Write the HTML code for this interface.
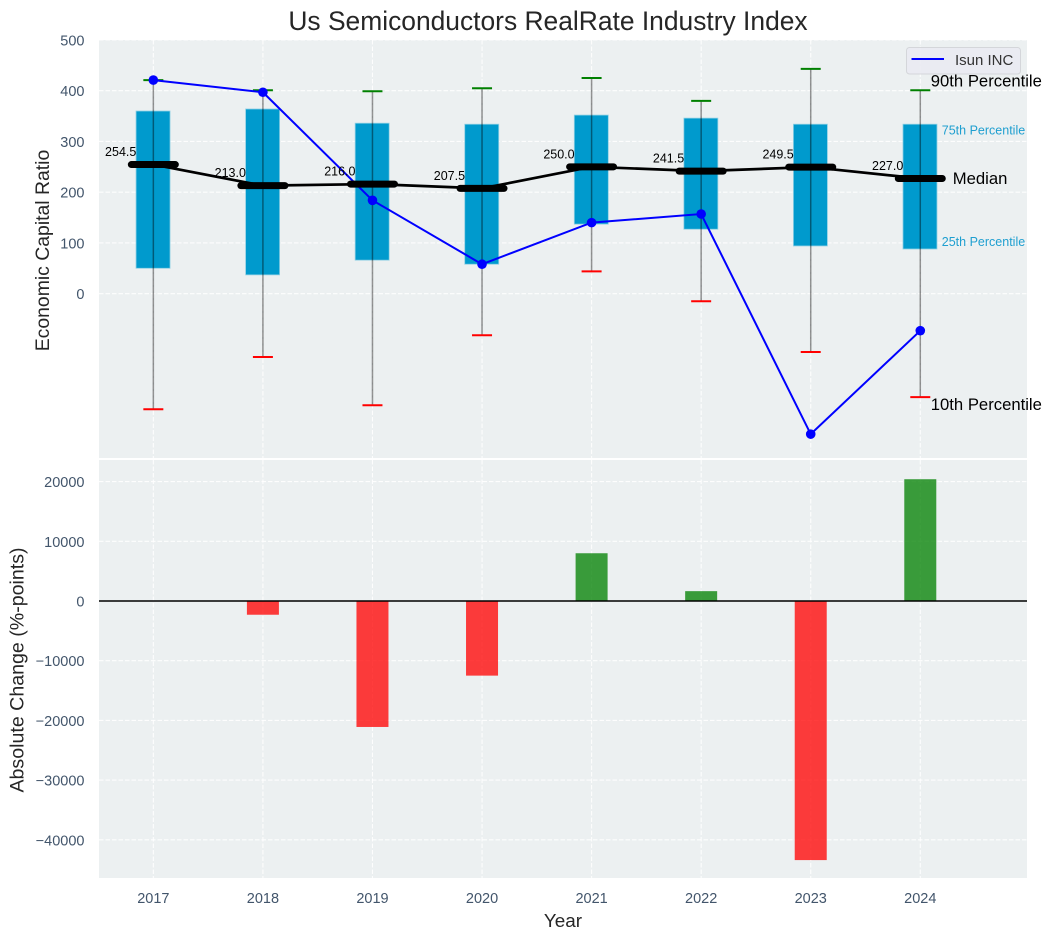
<!DOCTYPE html>
<html lang="en">
<head>
<meta charset="utf-8">
<title>Us Semiconductors RealRate Industry Index</title>
<style>
html,body{margin:0;padding:0;background:#fff;width:1051px;height:940px;overflow:hidden}
svg{display:block;font-family:"Liberation Sans",Arial,sans-serif}
</style>
</head>
<body>
<svg id="chart" xmlns="http://www.w3.org/2000/svg" width="1051" height="940" viewBox="0 0 1051 940"></svg>
<script>
const years = [2017, 2018, 2019, 2020, 2021, 2022, 2023, 2024];
const p90 = [421, 401, 399, 405, 425, 380, 443, 401];
const p75 = [360, 364, 336, 334, 352, 346, 334, 334];
const medians = [254.5, 213.0, 216.0, 207.5, 250.0, 241.5, 249.5, 227.0];
const p25 = [50, 37, 66, 58, 137, 127, 94, 88];
const p10 = [-228, -125, -220, -82, 44, -15, -115, -204];
const isun = [421, 397, 184, 58, 140, 157, -277, -73];
const changes = [0, -2300, -21100, -12500, 8000, 1650, -43400, 20400];
const topTicks = [0, 100, 200, 300, 400, 500];
const bottomTicks = [-40000, -30000, -20000, -10000, 0, 10000, 20000];

const svg = document.getElementById('chart');
const NS = 'http://www.w3.org/2000/svg';
const L = 99, R = 1027;
const T1 = 40, B1 = 458, T2 = 460, B2 = 878;
const xMin = 2016.504, xMax = 2024.974;
const topMin = -324, topMax = 500;
const botMin = -46400, botMax = 23620;
const x = v => L + (v - xMin) / (xMax - xMin) * (R - L);
const yTop = v => T1 + (topMax - v) / (topMax - topMin) * (B1 - T1);
const yBot = v => T2 + (botMax - v) / (botMax - botMin) * (B2 - T2);
function mk(tag, attrs, text) {
  const e = document.createElementNS(NS, tag);
  for (const k in attrs) e.setAttribute(k, attrs[k]);
  if (text !== undefined) e.textContent = text;
  svg.appendChild(e);
  return e;
}
const TICK = '#42556b';
const DARK = '#262626';
let el;

el = mk('rect', {x: L, y: T1, width: R - L, height: B1 - T1, fill: '#ecf0f1'});


el = mk('rect', {x: L, y: T2, width: R - L, height: B2 - T2, fill: '#ecf0f1'});



const gridStyle = {stroke: '#ffffff', 'stroke-width': 1.1, 'stroke-dasharray': '4.5 2', opacity: 0.9};
topTicks.forEach(t => {
  el = mk('line', Object.assign({x1: L, x2: R, y1: yTop(t), y2: yTop(t)}, gridStyle));
  
  
  el = mk('text', {x: 84.5, y: yTop(t) + 5.5, 'text-anchor': 'end', 'font-size': 14.5, fill: TICK}, String(t));
  
  
});
bottomTicks.forEach(t => {
  el = mk('line', Object.assign({x1: L, x2: R, y1: yBot(t), y2: yBot(t)}, gridStyle));
  
  
  el = mk('text', {x: 84.5, y: yBot(t) + 5.5, 'text-anchor': 'end', 'font-size': 14.5, fill: TICK}, String(t).replace('-', '\u2212'));
  
  
});
years.forEach(yr => {
  el = mk('line', Object.assign({x1: x(yr), x2: x(yr), y1: T1, y2: B1}, gridStyle));
  
  
  el = mk('line', Object.assign({x1: x(yr), x2: x(yr), y1: T2, y2: B2}, gridStyle));
  
  
  el = mk('text', {x: x(yr), y: 903, 'text-anchor': 'middle', 'font-size': 14.5, fill: TICK}, String(yr));
  
  
});

// boxes, whiskers, caps
years.forEach((yr, i) => {
  el = mk('rect', {x: x(yr) - 17.3, y: yTop(p75[i]), width: 34, height: yTop(p25[i]) - yTop(p75[i]), fill: '#009acd', stroke: '#8fd0e4', 'stroke-width': 0.8});
  
  
  el = mk('line', {x1: x(yr), x2: x(yr), y1: yTop(p90[i]), y2: yTop(p10[i]), stroke: '#000', 'stroke-opacity': 0.42, 'stroke-width': 1.5});
  
  
  el = mk('line', {x1: x(yr) - 10, x2: x(yr) + 10, y1: yTop(p90[i]), y2: yTop(p90[i]), stroke: '#008000', 'stroke-width': 2});
  
  
  el = mk('line', {x1: x(yr) - 10, x2: x(yr) + 10, y1: yTop(p10[i]), y2: yTop(p10[i]), stroke: '#ff0000', 'stroke-width': 2});
  
  
});

// Isun INC line
el = mk('polyline', {points: years.map((yr, i) => x(yr) + ',' + yTop(isun[i])).join(' '), fill: 'none', stroke: '#0000ff', 'stroke-width': 2});


years.forEach((yr, i) => {
  el = mk('circle', {cx: x(yr), cy: yTop(isun[i]), r: 4.8, fill: '#0000ff'});
  
  
});

// median line and bars
el = mk('polyline', {points: years.map((yr, i) => x(yr) + ',' + yTop(medians[i])).join(' '), fill: 'none', stroke: '#000', 'stroke-width': 2.7});


years.forEach((yr, i) => {
  el = mk('line', {x1: x(yr) - 22, x2: x(yr) + 22, y1: yTop(medians[i]), y2: yTop(medians[i]), stroke: '#000', 'stroke-width': 7, 'stroke-linecap': 'round'});
  
  
  el = mk('text', {x: x(yr) - 17, y: yTop(medians[i]) - 8.5, 'text-anchor': 'end', 'font-size': 12.5, fill: '#000'}, medians[i].toFixed(1));
  
  
});

// percentile annotations anchored on the last year
const last = years.length - 1;
const lx = x(years[last]);
el = mk('text', {x: lx + 10.5, y: yTop(p90[last]) - 3.5, 'font-size': 16.67, fill: '#000'}, '90th Percentile');


el = mk('text', {x: lx + 21.5, y: yTop(p75[last]) + 10.5, 'font-size': 12.5, fill: '#1f9fd0'}, '75th Percentile');


el = mk('text', {x: lx + 32.5, y: yTop(medians[last]) + 5.5, 'font-size': 16.67, fill: '#000'}, 'Median');


el = mk('text', {x: lx + 21.5, y: yTop(p25[last]) - 3, 'font-size': 12.5, fill: '#1f9fd0'}, '25th Percentile');


el = mk('text', {x: lx + 10.5, y: yTop(p10[last]) + 13, 'font-size': 16.67, fill: '#000'}, '10th Percentile');



// change bars
years.forEach((yr, i) => {
  const v = changes[i];
  if (v === 0) return;
  el = mk('rect', {x: x(yr) - 16, y: Math.min(yBot(v), yBot(0)), width: 32, height: Math.abs(yBot(v) - yBot(0)), fill: v < 0 ? '#ff0000' : '#008000', 'fill-opacity': 0.76});
  
  
});
el = mk('line', {x1: L, x2: R, y1: yBot(0), y2: yBot(0), stroke: '#000', 'stroke-width': 1.6});



// legend
el = mk('rect', {x: 906.5, y: 47.5, width: 114, height: 26.5, rx: 3, fill: '#eaeaf2', 'fill-opacity': 0.9, stroke: '#d4d6da', 'stroke-width': 1});


el = mk('line', {x1: 911.5, x2: 944, y1: 59, y2: 59, stroke: '#0000ff', 'stroke-width': 2});


el = mk('text', {x: 955, y: 65, 'font-size': 15, fill: '#333'}, 'Isun INC');



// titles
el = mk('text', {x: 548, y: 30, 'text-anchor': 'middle', 'font-size': 26.4, fill: DARK}, 'Us Semiconductors RealRate Industry Index');


el = mk('text', {x: 563, y: 927, 'text-anchor': 'middle', 'font-size': 18.9, fill: DARK}, 'Year');


el = mk('text', {transform: 'translate(49,250.5) rotate(-90)', 'text-anchor': 'middle', 'font-size': 19.4, fill: DARK}, 'Economic Capital Ratio');


el = mk('text', {transform: 'translate(23.5,670) rotate(-90)', 'text-anchor': 'middle', 'font-size': 19.6, fill: DARK}, 'Absolute Change (%-points)');


</script>
</body>
</html>
